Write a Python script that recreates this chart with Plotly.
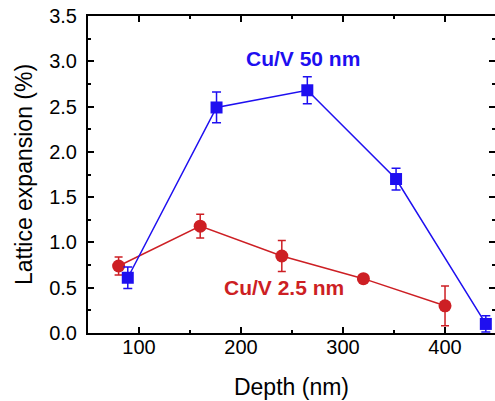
import plotly.graph_objects as go

# Cu/V 50 nm
depth_50 = [89, 176, 265, 352, 440]
exp_50 = [0.61, 2.49, 2.68, 1.70, 0.10]
err_50 = [0.12, 0.17, 0.15, 0.12, 0.09]

# Cu/V 2.5 nm
depth_25 = [80, 160, 240, 320, 400]
exp_25 = [0.74, 1.18, 0.85, 0.60, 0.30]
err_25 = [0.10, 0.13, 0.17, 0.0, 0.22]

x_ticks = [100, 200, 300, 400]
y_ticks = [0.0, 0.5, 1.0, 1.5, 2.0, 2.5, 3.0, 3.5]

BLUE = "#1e0ff0"
RED = "#cd1f24"
FONT = "Liberation Sans, Arial, sans-serif"

fig = go.Figure()
fig.add_trace(go.Scatter(
    x=depth_25, y=exp_25, mode="lines+markers",
    line=dict(color=RED, width=1.5),
    marker=dict(symbol="circle", size=13, color=RED),
    error_y=dict(type="data", array=err_25, visible=True, color=RED, thickness=1.5, width=4),
    showlegend=False, cliponaxis=False,
))
fig.add_trace(go.Scatter(
    x=depth_50, y=exp_50, mode="lines+markers",
    line=dict(color=BLUE, width=1.5),
    marker=dict(symbol="square", size=12, color=BLUE),
    error_y=dict(type="data", array=err_50, visible=True, color=BLUE, thickness=1.5, width=4.5),
    showlegend=False, cliponaxis=False,
))
# invisible trace for right-side ticks
fig.add_trace(go.Scatter(x=[depth_50[0]], y=[exp_50[0]], yaxis="y2", mode="markers",
                         marker=dict(opacity=0), showlegend=False, hoverinfo="skip"))

fig.add_annotation(x=261, y=3.03, xref="x", yref="y", text="<b>Cu/V 50 nm</b>",
                   showarrow=False, font=dict(family=FONT, size=21, color=BLUE))
fig.add_annotation(x=242, y=0.50, xref="x", yref="y", text="<b>Cu/V 2.5 nm</b>",
                   showarrow=False, font=dict(family=FONT, size=21, color=RED))

axis_common = dict(
    showline=True, linecolor="black", linewidth=2,
    ticks="inside", ticklen=6, tickwidth=1.5, tickcolor="black",
    showgrid=False, zeroline=False,
    tickfont=dict(family=FONT, size=20, color="black"),
)

fig.update_layout(
    width=495, height=401,
    margin=dict(l=88, r=0, t=16, b=68),
    paper_bgcolor="white", plot_bgcolor="white",
    xaxis=dict(
        range=[50, 449], tickvals=x_ticks, mirror="ticks",
        minor=dict(dtick=50, tick0=0, ticks="inside", ticklen=3, tickwidth=1.5, tickcolor="black"),
        title=dict(text="Depth (nm)", font=dict(family=FONT, size=23, color="black"), standoff=22),
        ticklabelstandoff=-5,
        **axis_common,
    ),
    yaxis=dict(
        range=[0, 3.5], tickvals=y_ticks, ticktext=[f"{v:.1f}" for v in y_ticks],
        minor=dict(dtick=0.25, tick0=0, ticks="inside", ticklen=3, tickwidth=1.5, tickcolor="black"),
        title=dict(text="Lattice expansion (%)", font=dict(family=FONT, size=23, color="black"), standoff=10),
        ticklabelstandoff=5,
        **axis_common,
    ),
    yaxis2=dict(
        overlaying="y", side="right", range=[0, 3.5], tickvals=y_ticks,
        showticklabels=False, showline=False, showgrid=False, zeroline=False,
        ticks="inside", ticklen=6, tickwidth=1.5, tickcolor="black",
        minor=dict(dtick=0.25, tick0=0, ticks="inside", ticklen=3, tickwidth=1.5, tickcolor="black"),
    ),
)
fig.write_html("out.html")
